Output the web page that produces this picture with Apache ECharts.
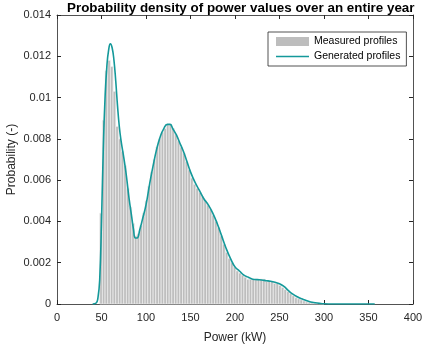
<!DOCTYPE html>
<html><head><meta charset="utf-8">
<script src="https://cdn.jsdelivr.net/npm/echarts@6/dist/echarts.min.js"></script>
<style>html,body{margin:0;padding:0;background:#fff}#c{width:424px;height:345px}</style>
</head><body><div id="c"></div>
<script>
// Histogram (measured profiles): bins of 3 kW starting at 48 kW
const binStart = 48;
const binWidth = 3;
const measured = [
 0.0044,0.0089,0.0113,0.0118,0.0115,0.0103,0.0086,0.0080,0.0074,0.0067,
 0.0056,0.0047,0.0039,0.0033,0.0034,0.0038,0.0044,0.0050,0.0057,0.0064,
 0.0070,0.0076,0.0080,0.0083,0.0085,0.0087,0.0087,0.0085,0.0082,0.0079,
 0.0076,0.0073,0.0069,0.0065,0.0061,0.0058,0.0056,0.0054,0.0052,0.0050,
 0.0048,0.0046,0.0043,0.0040,0.0037,0.0033,0.0029,0.0025,0.0022,0.0020,
 0.0018,0.0016,0.0015,0.0014,0.0013,0.0012,0.0012,0.0012,0.0012,0.0012,
 0.0012,0.0012,0.0011,0.0011,0.0011,0.0010,0.0010,0.0009,0.0008,0.0007,
 0.0006,0.0005,0.0004,0.0003,0.00025,0.0002,0.00015,0.0001,0.00008,0.00006,
 0.00004,0.00003,0.00002,0.00001
];
// Generated profiles (density curve)
const genX = [40,44,46,48,50,52,54,56,58,60,62,64,66,68,70,72,75,78,81,84,86,88,90,93,96,100,104,108,112,116,120,124,127,130,134,138,142,146,150,155,160,165,170,175,180,185,190,195,200,205,210,215,220,225,230,235,240,245,250,255,260,265,270,275,280,285,290,295,300,310,357];
const genY = [0,0.00005,0.0003,0.0012,0.0040,0.0075,0.0100,0.0115,0.0123,0.0126,0.0124,0.0118,0.0108,0.0096,0.0086,0.0079,0.0071,0.0062,0.0051,0.0042,0.0036,0.0032,0.0032,0.0036,0.0041,0.0048,0.0058,0.0067,0.0075,0.0081,0.0085,0.0087,0.0087,0.0085,0.0082,0.0078,0.0074,0.0069,0.0064,0.0059,0.0055,0.0051,0.0048,0.0044,0.0039,0.0033,0.0027,0.0022,0.0018,0.0016,0.0014,0.0013,0.0012,0.00118,0.00116,0.00113,0.0011,0.00105,0.00098,0.00085,0.00065,0.00048,0.00035,0.00025,0.00017,0.0001,0.00006,0.00003,0.00001,0,0];
const xTicks = [0,50,100,150,200,250,300,350,400];
const yTicks = [0,0.002,0.004,0.006,0.008,0.01,0.012,0.014];

const histData = measured.map((v,i)=>[binStart+i*binWidth, binStart+(i+1)*binWidth, v]);
const lineData = genX.map((x,i)=>[x, genY[i]]);

const axisColor = '#262626';
const teal = '#14999a';
const font = 'Liberation Sans, Arial, Helvetica, sans-serif';
const chart = echarts.init(document.getElementById('c'), null, {renderer:'canvas'});
const boxAxis = {show:true, onZero:false, lineStyle:{color:axisColor,width:0.8}};
const tick = {show:true,inside:true,length:4,lineStyle:{color:axisColor}};
chart.setOption({
  animation:false,
  backgroundColor:'#fff',
  textStyle:{fontFamily:font},
  title:{text:'Probability density of power values over an entire year', left:67, top:2, padding:0,
    textStyle:{fontSize:13.4, fontWeight:'bold', color:'#000', fontFamily:font}},
  grid:{left:57,right:11,top:15,bottom:41,containLabel:false,outerBoundsMode:'none'},
  legend:{orient:'vertical', left:268, top:32, itemWidth:33, itemHeight:9, itemGap:4,
    padding:[4,6,4,8], borderColor:axisColor, borderWidth:0.8, backgroundColor:'#fff',
    textStyle:{fontSize:10.5, color:'#000', fontFamily:font},
    data:[{name:'Measured profiles', icon:'rect'},
          {name:'Generated profiles', icon:'path://M0,0 H33 V1.6 H0 Z'}]},
  xAxis:[{type:'value', min:xTicks[0], max:xTicks[xTicks.length-1], interval:50,
    name:'Power (kW)', nameLocation:'middle', nameGap:28, nameMoveOverlap:false, nameTextStyle:{fontSize:12,color:axisColor},
    axisLine:boxAxis, axisTick:tick,
    axisLabel:{fontSize:11,color:axisColor,margin:8}, splitLine:{show:false}},
   {type:'value', position:'top', min:xTicks[0], max:xTicks[xTicks.length-1], interval:50,
    axisLine:boxAxis, axisTick:tick, axisLabel:{show:false}, splitLine:{show:false}}],
  yAxis:[{type:'value', min:yTicks[0], max:yTicks[yTicks.length-1], interval:0.002,
    name:'Probability (-)', nameLocation:'middle', nameGap:39, nameMoveOverlap:false, nameTextStyle:{fontSize:12,color:axisColor},
    axisLine:boxAxis, axisTick:tick,
    axisLabel:{fontSize:11,color:axisColor,margin:6, formatter:v=>String(+v.toFixed(3))}, splitLine:{show:false}},
   {type:'value', position:'right', min:yTicks[0], max:yTicks[yTicks.length-1], interval:0.002,
    axisLine:boxAxis, axisTick:tick, axisLabel:{show:false}, splitLine:{show:false}}],
  series:[
    {name:'Measured profiles', type:'custom', xAxisIndex:0, yAxisIndex:0,
     itemStyle:{color:'#bdbdbd'},
     encode:{x:[0,1], y:2},
     data:histData,
     renderItem:function(params, api){
       const p0 = api.coord([api.value(0), 0]);
       const p1 = api.coord([api.value(1), api.value(2)]);
       return {type:'rect', shape:{x:p0[0], y:p1[1], width:p1[0]-p0[0], height:p0[1]-p1[1]},
         style:{fill:'#bdbdbd', stroke:'#efefef', lineWidth:0.7}};
     }},
    {name:'Generated profiles', type:'line', xAxisIndex:0, yAxisIndex:0,
     data:lineData, symbol:'none', showSymbol:false, smooth:0.5,
     lineStyle:{color:teal, width:1.6}, itemStyle:{color:teal}, z:5}
  ]
});
</script></body></html>
